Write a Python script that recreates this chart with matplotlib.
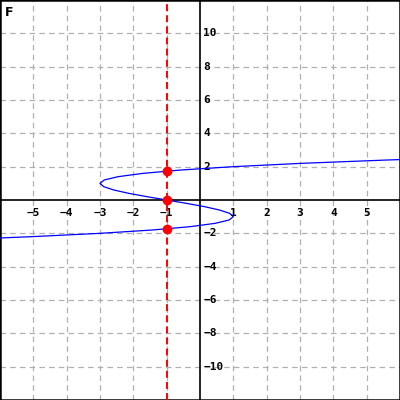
import matplotlib
matplotlib.use("Agg")
import matplotlib.pyplot as plt

# curve points (x as a function of y)
curve_y = [-2.4, -2.3, -2.2, -2.0, -1.8, -1.6, -1.4, -1.2, -1.0, -0.8, -0.6, -0.4, -0.2,
           0.0, 0.2, 0.4, 0.6, 0.8, 1.0, 1.2, 1.4, 1.6, 1.8, 2.0, 2.2, 2.4, 2.5, 2.6]
curve_x = [-7.624, -6.267, -5.048, -3.0, -1.432, -0.296, 0.456, 0.872, 1.0, 0.888, 0.584, 0.136, -0.408,
           -1.0, -1.592, -2.136, -2.584, -2.888, -3.0, -2.872, -2.456, -1.704, -0.568, 1.0, 3.048, 5.624, 7.125, 8.776]

vline_x = -1
points_x = [-1, -1, -1]
points_y = [1.732, 0.0, -1.732]

x_ticks = [-5, -4, -3, -2, -1, 1, 2, 3, 4, 5]
y_ticks = [-10, -8, -6, -4, -2, 2, 4, 6, 8, 10]
x_grid = [-5, -4, -3, -2, -1, 1, 2, 3, 4, 5]
y_grid = [-10, -8, -6, -4, -2, 2, 4, 6, 8, 10]

plt.rcParams['lines.scale_dashes'] = False
fig = plt.figure(figsize=(4, 4), dpi=100)
ax = fig.add_axes([0, 0, 1, 1])
ax.set_xlim(-6, 6)
ax.set_ylim(-12, 12)
ax.set_xticks([])
ax.set_yticks([])
for s in ax.spines.values():
    s.set_linewidth(1.8)
    s.set_color('black')

grid_kw = dict(color='#b0b0b0', lw=0.9, ls=(0, (4, 3)), zorder=1)
for gx in x_grid:
    ax.axvline(gx, **grid_kw)
for gy in y_grid:
    ax.axhline(gy, **grid_kw)

ax.axhline(0, color='black', lw=1.2, zorder=2)
ax.axvline(0, color='black', lw=1.2, zorder=2)

lab_kw = dict(family='DejaVu Sans Mono', fontweight='bold', fontsize=8, color='black', zorder=3)
for t in x_ticks:
    ax.text(t, -0.8, str(t).replace('-', '\u2212'), ha='center', va='center', **lab_kw)
for t in y_ticks:
    ax.text(0.1, t, str(t).replace('-', '\u2212'), ha='left', va='center', **lab_kw)

ax.plot(curve_x, curve_y, color='blue', lw=0.9, zorder=4)
ax.axvline(vline_x, color='red', lw=1.4, ls=(0, (5, 3)), zorder=5)
ax.plot(points_x, points_y, 'o', color='red', ms=6, zorder=6)

ax.text(0.012, 0.985, 'F', transform=ax.transAxes, ha='left', va='top',
        fontsize=9, fontweight='bold', family='DejaVu Sans')

fig.savefig('out.png', dpi=100)
